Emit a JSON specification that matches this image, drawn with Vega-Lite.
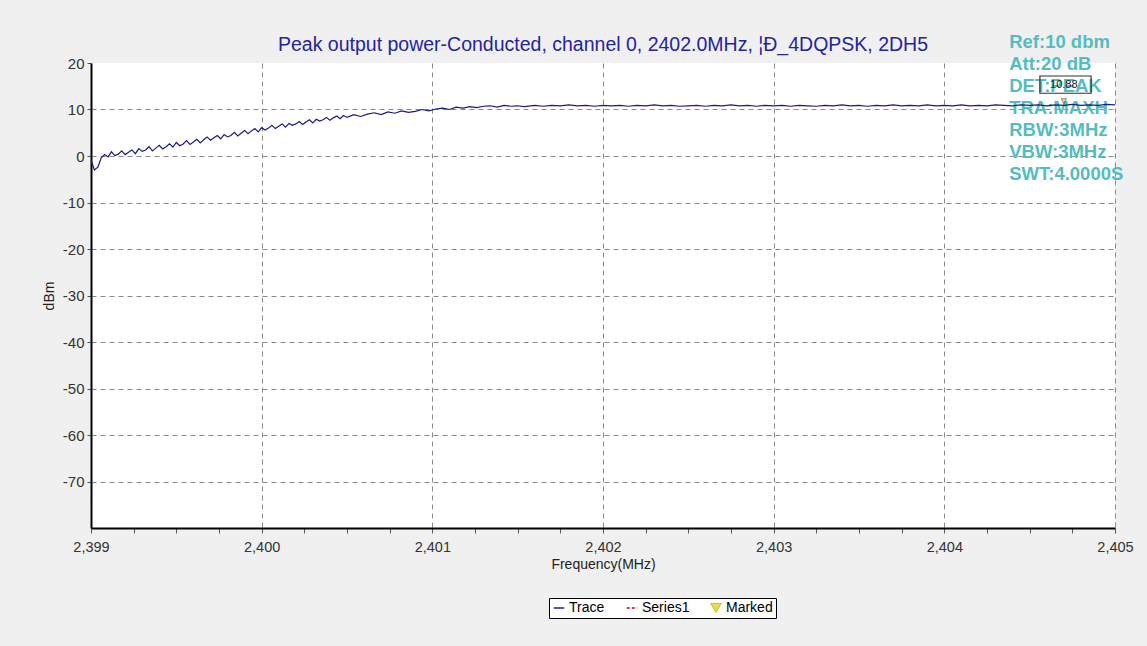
{
"$schema": "https://vega.github.io/schema/vega-lite/v6.json",
"width": 1024, "height": 465,
"autosize": "none",
"padding": {"left": 91, "top": 63, "right": 32, "bottom": 118},
"background": "#f0f0f0",
"config": {"view": {"fill": "white", "stroke": null}, "font": "Liberation Sans"},
"title": {"text": "Peak output power-Conducted, channel 0, 2402.0MHz, ¦Ð_4DQPSK, 2DH5", "fontSize": 19.5, "fontWeight": "normal", "color": "#2424a0", "font": "Liberation Sans", "anchor": "middle", "offset": -22},
"datasets": {
"trace": [
{"f":2399.00,"v":-0.8,"s":"Trace"},{"f":2399.02,"v":-3.0,"s":"Trace"},{"f":2399.04,"v":-2.4,"s":"Trace"},{"f":2399.06,"v":-0.4,"s":"Trace"},{"f":2399.08,"v":0.3,"s":"Trace"},{"f":2399.10,"v":-0.2,"s":"Trace"},{"f":2399.12,"v":0.9,"s":"Trace"},{"f":2399.14,"v":0.1,"s":"Trace"},{"f":2399.16,"v":0.4,"s":"Trace"},{"f":2399.18,"v":1.1,"s":"Trace"},{"f":2399.20,"v":0.3,"s":"Trace"},{"f":2399.22,"v":0.8,"s":"Trace"},{"f":2399.24,"v":1.3,"s":"Trace"},{"f":2399.26,"v":0.5,"s":"Trace"},{"f":2399.28,"v":1.6,"s":"Trace"},{"f":2399.30,"v":1.0,"s":"Trace"},{"f":2399.32,"v":1.3,"s":"Trace"},{"f":2399.34,"v":2.0,"s":"Trace"},{"f":2399.36,"v":1.1,"s":"Trace"},{"f":2399.38,"v":1.7,"s":"Trace"},{"f":2399.40,"v":2.3,"s":"Trace"},{"f":2399.42,"v":1.5,"s":"Trace"},{"f":2399.44,"v":2.0,"s":"Trace"},{"f":2399.46,"v":2.6,"s":"Trace"},{"f":2399.48,"v":1.9,"s":"Trace"},{"f":2399.50,"v":2.9,"s":"Trace"},{"f":2399.52,"v":2.2,"s":"Trace"},{"f":2399.54,"v":2.6,"s":"Trace"},{"f":2399.56,"v":3.3,"s":"Trace"},{"f":2399.58,"v":2.5,"s":"Trace"},{"f":2399.60,"v":3.0,"s":"Trace"},{"f":2399.62,"v":3.6,"s":"Trace"},{"f":2399.64,"v":2.8,"s":"Trace"},{"f":2399.66,"v":3.5,"s":"Trace"},{"f":2399.68,"v":4.1,"s":"Trace"},{"f":2399.70,"v":3.4,"s":"Trace"},{"f":2399.72,"v":3.9,"s":"Trace"},{"f":2399.74,"v":4.4,"s":"Trace"},{"f":2399.76,"v":3.7,"s":"Trace"},{"f":2399.78,"v":4.6,"s":"Trace"},{"f":2399.80,"v":4.1,"s":"Trace"},{"f":2399.82,"v":4.4,"s":"Trace"},{"f":2399.84,"v":5.1,"s":"Trace"},{"f":2399.86,"v":4.3,"s":"Trace"},{"f":2399.88,"v":4.9,"s":"Trace"},{"f":2399.90,"v":5.5,"s":"Trace"},{"f":2399.92,"v":4.8,"s":"Trace"},{"f":2399.94,"v":5.4,"s":"Trace"},{"f":2399.96,"v":5.9,"s":"Trace"},{"f":2399.98,"v":5.2,"s":"Trace"},{"f":2400.00,"v":6.1,"s":"Trace"},{"f":2400.02,"v":5.6,"s":"Trace"},{"f":2400.04,"v":6.0,"s":"Trace"},{"f":2400.06,"v":6.6,"s":"Trace"},{"f":2400.08,"v":5.9,"s":"Trace"},{"f":2400.10,"v":6.4,"s":"Trace"},{"f":2400.12,"v":6.9,"s":"Trace"},{"f":2400.14,"v":6.2,"s":"Trace"},{"f":2400.16,"v":7.0,"s":"Trace"},{"f":2400.18,"v":6.6,"s":"Trace"},{"f":2400.20,"v":6.9,"s":"Trace"},{"f":2400.22,"v":7.4,"s":"Trace"},{"f":2400.24,"v":6.8,"s":"Trace"},{"f":2400.26,"v":7.3,"s":"Trace"},{"f":2400.28,"v":7.8,"s":"Trace"},{"f":2400.30,"v":7.1,"s":"Trace"},{"f":2400.32,"v":7.9,"s":"Trace"},{"f":2400.34,"v":7.5,"s":"Trace"},{"f":2400.36,"v":7.8,"s":"Trace"},{"f":2400.38,"v":8.3,"s":"Trace"},{"f":2400.40,"v":7.7,"s":"Trace"},{"f":2400.42,"v":8.2,"s":"Trace"},{"f":2400.44,"v":8.6,"s":"Trace"},{"f":2400.46,"v":8.0,"s":"Trace"},{"f":2400.48,"v":8.7,"s":"Trace"},{"f":2400.50,"v":8.3,"s":"Trace"},
{"f":2400.54,"v":8.9,"s":"Trace"},{"f":2400.58,"v":8.5,"s":"Trace"},{"f":2400.62,"v":9.0,"s":"Trace"},{"f":2400.66,"v":9.3,"s":"Trace"},{"f":2400.70,"v":8.9,"s":"Trace"},{"f":2400.74,"v":9.5,"s":"Trace"},{"f":2400.78,"v":9.2,"s":"Trace"},{"f":2400.82,"v":9.7,"s":"Trace"},{"f":2400.86,"v":9.4,"s":"Trace"},{"f":2400.90,"v":9.6,"s":"Trace"},{"f":2400.94,"v":10.0,"s":"Trace"},{"f":2400.98,"v":9.7,"s":"Trace"},{"f":2401.02,"v":10.1,"s":"Trace"},{"f":2401.06,"v":10.3,"s":"Trace"},{"f":2401.10,"v":10.0,"s":"Trace"},{"f":2401.14,"v":10.5,"s":"Trace"},{"f":2401.18,"v":10.3,"s":"Trace"},{"f":2401.22,"v":10.6,"s":"Trace"},{"f":2401.26,"v":10.4,"s":"Trace"},{"f":2401.30,"v":10.7,"s":"Trace"},{"f":2401.34,"v":10.8,"s":"Trace"},{"f":2401.38,"v":10.5,"s":"Trace"},{"f":2401.42,"v":10.9,"s":"Trace"},{"f":2401.46,"v":10.7,"s":"Trace"},{"f":2401.50,"v":10.8,"s":"Trace"},{"f":2401.54,"v":10.6,"s":"Trace"},
{"f":2401.60,"v":10.9,"s":"Trace"},{"f":2401.65,"v":10.7,"s":"Trace"},{"f":2401.70,"v":10.9,"s":"Trace"},{"f":2401.75,"v":10.8,"s":"Trace"},{"f":2401.80,"v":11.0,"s":"Trace"},{"f":2401.85,"v":10.8,"s":"Trace"},{"f":2401.90,"v":10.9,"s":"Trace"},{"f":2401.95,"v":10.7,"s":"Trace"},{"f":2402.00,"v":10.9,"s":"Trace"},{"f":2402.05,"v":10.8,"s":"Trace"},{"f":2402.10,"v":10.9,"s":"Trace"},{"f":2402.15,"v":10.7,"s":"Trace"},{"f":2402.20,"v":10.9,"s":"Trace"},{"f":2402.25,"v":10.8,"s":"Trace"},{"f":2402.30,"v":11.0,"s":"Trace"},{"f":2402.35,"v":10.8,"s":"Trace"},{"f":2402.40,"v":10.9,"s":"Trace"},{"f":2402.45,"v":10.7,"s":"Trace"},{"f":2402.50,"v":10.8,"s":"Trace"},{"f":2402.55,"v":10.9,"s":"Trace"},{"f":2402.60,"v":10.7,"s":"Trace"},{"f":2402.65,"v":10.9,"s":"Trace"},{"f":2402.70,"v":10.8,"s":"Trace"},{"f":2402.75,"v":11.0,"s":"Trace"},{"f":2402.80,"v":10.8,"s":"Trace"},{"f":2402.85,"v":10.9,"s":"Trace"},{"f":2402.90,"v":10.7,"s":"Trace"},{"f":2402.95,"v":10.9,"s":"Trace"},{"f":2403.00,"v":10.8,"s":"Trace"},{"f":2403.05,"v":10.9,"s":"Trace"},{"f":2403.10,"v":10.7,"s":"Trace"},{"f":2403.15,"v":10.9,"s":"Trace"},{"f":2403.20,"v":10.8,"s":"Trace"},{"f":2403.25,"v":10.7,"s":"Trace"},{"f":2403.30,"v":10.9,"s":"Trace"},{"f":2403.35,"v":10.8,"s":"Trace"},{"f":2403.40,"v":11.0,"s":"Trace"},{"f":2403.45,"v":10.8,"s":"Trace"},{"f":2403.50,"v":10.9,"s":"Trace"},{"f":2403.55,"v":10.7,"s":"Trace"},{"f":2403.60,"v":10.9,"s":"Trace"},{"f":2403.65,"v":10.8,"s":"Trace"},{"f":2403.70,"v":11.0,"s":"Trace"},{"f":2403.75,"v":10.8,"s":"Trace"},{"f":2403.80,"v":10.9,"s":"Trace"},{"f":2403.85,"v":10.8,"s":"Trace"},{"f":2403.90,"v":11.0,"s":"Trace"},{"f":2403.95,"v":10.8,"s":"Trace"},{"f":2404.00,"v":10.9,"s":"Trace"},{"f":2404.05,"v":10.8,"s":"Trace"},{"f":2404.10,"v":11.0,"s":"Trace"},{"f":2404.15,"v":10.8,"s":"Trace"},{"f":2404.20,"v":10.9,"s":"Trace"},{"f":2404.25,"v":10.8,"s":"Trace"},{"f":2404.30,"v":11.0,"s":"Trace"},{"f":2404.35,"v":10.9,"s":"Trace"},{"f":2404.40,"v":10.8,"s":"Trace"},{"f":2404.45,"v":11.0,"s":"Trace"},{"f":2404.50,"v":10.9,"s":"Trace"},{"f":2404.55,"v":11.0,"s":"Trace"},{"f":2404.60,"v":10.8,"s":"Trace"},{"f":2404.65,"v":11.0,"s":"Trace"},{"f":2404.70,"v":10.9,"s":"Trace"},{"f":2404.75,"v":11.1,"s":"Trace"},{"f":2404.80,"v":10.9,"s":"Trace"},{"f":2404.85,"v":11.0,"s":"Trace"},{"f":2404.90,"v":10.9,"s":"Trace"},{"f":2404.95,"v":11.1,"s":"Trace"},{"f":2405.00,"v":11.0,"s":"Trace"}
],
"notes": [
{"f":2404.38,"v":23.2,"label":"Ref:10 dbm"},
{"f":2404.38,"v":18.5,"label":"Att:20 dB"},
{"f":2404.38,"v":13.8,"label":"DET:PEAK"},
{"f":2404.38,"v":9.0,"label":"TRA:MAXH"},
{"f":2404.38,"v":4.3,"label":"RBW:3MHz"},
{"f":2404.38,"v":-0.4,"label":"VBW:3MHz"},
{"f":2404.38,"v":-5.2,"label":"SWT:4.0000S"}
],
"marker": [{"f":2404.70,"v":11.8,"f2":2404.56,"f3":2404.86,"v2":17.2,"v3":13.5,"vt":15.3,"label":"10.88"}]
},
"encoding": {
"x": {"field": "f", "type": "quantitative", "scale": {"domain": [2399, 2405], "nice": false, "zero": false},
 "axis": {"title": "Frequency(MHz)", "values": [2399,2399.25,2399.5,2399.75,2400,2400.25,2400.5,2400.75,2401,2401.25,2401.5,2401.75,2402,2402.25,2402.5,2402.75,2403,2403.25,2403.5,2403.75,2404,2404.25,2404.5,2404.75,2405],
  "labelExpr": "datum.value % 1 === 0 ? format(datum.value, ',') : ''",
  "gridOpacity": {"condition": {"test": "datum.value % 1 !== 0 || datum.value === 2399", "value": 0}, "value": 1},
  "grid": true, "gridColor": "#8a8a8a", "gridDash": [5, 4], "gridWidth": 1,
  "domainColor": "#000", "domainWidth": 2, "tickColor": "#555", "tickSize": 5,
  "labelFontSize": 14.5, "labelColor": "#333", "labelPadding": 7, "labelFlush": false,
  "titleFontSize": 14, "titleFontWeight": "normal", "titleColor": "#222", "titlePadding": 4}},
"y": {"field": "v", "type": "quantitative", "scale": {"domain": [-80, 20], "nice": false, "zero": false},
 "axis": {"title": "dBm", "values": [-70,-60,-50,-40,-30,-20,-10,0,10,20],
  "labelExpr": "'' + datum.value",
  "gridOpacity": {"condition": {"test": "datum.value === 20", "value": 0}, "value": 1},
  "grid": true, "gridColor": "#8a8a8a", "gridDash": [5, 4], "gridWidth": 1,
  "domainColor": "#000", "domainWidth": 2, "tickColor": "#555", "tickSize": 4,
  "labelFontSize": 15, "labelColor": "#333", "labelPadding": 3,
  "titleFontSize": 14, "titleFontWeight": "normal", "titleColor": "#222", "titlePadding": 6}}
},
"layer": [
{"data": {"name": "notes"}, "mark": {"type": "text", "align": "left", "baseline": "alphabetic", "fontSize": 18.5, "fontWeight": "bold", "color": "#55bcbf", "font": "Liberation Sans"},
 "encoding": {"text": {"field": "label"}}},
{"data": {"name": "trace"}, "mark": {"type": "line", "strokeWidth": 1.2},
 "encoding": {"color": {"field": "s", "type": "nominal",
  "scale": {"domain": ["Trace", "Series1", "Marked"], "range": ["#1c1c80", "#c00000", "#b8b820"]},
  "legend": {"title": null, "orient": "none", "legendX": 458, "legendY": 535, "direction": "horizontal",
   "fillColor": "white", "strokeColor": "#000", "padding": 3, "labelFontSize": 14, "labelColor": "#000",
   "symbolSize": 110, "symbolStrokeWidth": 1.5, "columnPadding": 18, "labelOffset": 3, "symbolType": "stroke",
   "encode": {"symbols": {"update": {
     "shape": {"signal": "datum.value === 'Marked' ? 'triangle-down' : 'stroke'"},
     "strokeDash": {"signal": "datum.value === 'Series1' ? [3, 2] : [1, 0]"},
     "fill": {"signal": "datum.value === 'Marked' ? '#e6e04a' : 'transparent'"},
     "stroke": {"signal": "datum.value === 'Marked' ? '#555' : (datum.value === 'Series1' ? '#c00000' : '#1c1c80')"},
     "strokeWidth": {"signal": "datum.value === 'Marked' ? 1 : 1.5"}}}}}}}},
{"data": {"name": "marker"}, "mark": {"type": "rect", "fill": null, "stroke": "#333", "strokeWidth": 1.2},
 "encoding": {"x": {"field": "f2", "type": "quantitative"}, "x2": {"field": "f3"}, "y": {"field": "v2", "type": "quantitative"}, "y2": {"field": "v3"}}},
{"data": {"name": "marker"}, "mark": {"type": "text", "fontSize": 11, "color": "#222", "baseline": "middle", "align": "center"},
 "encoding": {"x": {"field": "f", "type": "quantitative"}, "y": {"field": "vt", "type": "quantitative"}, "text": {"field": "label"}}},
{"data": {"name": "marker"}, "mark": {"type": "point", "shape": "triangle-down", "size": 30, "filled": true, "fill": "#e6e04a", "stroke": "#333", "strokeWidth": 0.8},
 "encoding": {}}
]
}
